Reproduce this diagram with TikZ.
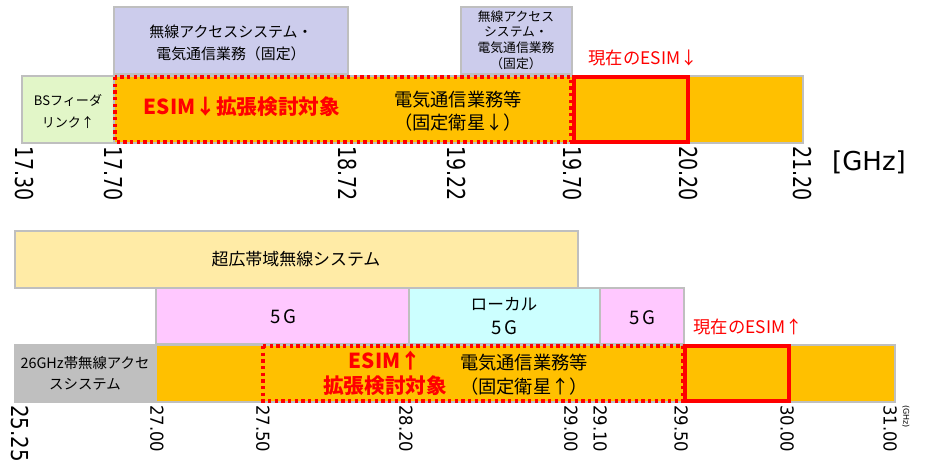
\documentclass[tikz,border=0pt]{standalone}
\usepackage{fontspec}
\setmainfont{Noto Sans CJK JP}
\newfontfamily\numfont{DejaVu Sans}
\definecolor{bord}{HTML}{BFBFBF}
\definecolor{lav}{HTML}{CCCCEC}
\definecolor{lgreen}{HTML}{E2F6C8}
\definecolor{orng}{HTML}{FFC000}
\definecolor{lyel}{HTML}{FFEBA6}
\definecolor{lpink}{HTML}{FFC8FF}
\definecolor{lcyan}{HTML}{CCFFFF}
\definecolor{gry}{HTML}{BFBFBF}
\definecolor{red}{HTML}{FF0000}
\begin{document}
\begin{tikzpicture}[x=0.75pt,y=-0.75pt,
  band/.style={draw=bord,line width=1.1pt},
  esimdot/.style={draw=red,line width=2.6pt,dash pattern=on 2.6pt off 2.4pt},
  esimcur/.style={draw=red,line width=2.6pt},
  lbl/.style={inner sep=0pt,align=center,text=black},
  redlbl/.style={inner sep=0pt,align=center,text=red},
  tickbig/.style={inner sep=0pt,anchor=west,rotate=-90,font=\numfont\fontsize{18.5}{20}\selectfont},
  ticksmall/.style={inner sep=0pt,anchor=west,rotate=-90,font=\numfont\fontsize{13.4}{15}\selectfont}]
\useasboundingbox (0,0) rectangle (926,469);
% ---------- top (downlink) ----------
\draw[band,fill=lav] (114,7) rectangle (348,74);
\draw[band,fill=lav] (461,7) rectangle (572,74);
\draw[band,fill=lgreen] (22,76) rectangle (114,143);
\draw[band,fill=orng] (114,76) rectangle (803,143);
\draw[esimdot] (115,77) rectangle (571,142);
\draw[esimcur] (574,77) rectangle (688,142);
\node[lbl,font=\fontsize{11.2}{16.5}\selectfont] (fwa1) at (231,43) {無線アクセスシステム・\\電気通信業務（固定）};
\node[lbl,font=\fontsize{9.6}{11.7}\selectfont] (fwa2) at (516,40) {無線アクセス\\システム・\\電気通信業務\\（固定）};
\node[lbl,font=\fontsize{9.8}{16.5}\selectfont] (bs) at (68,111) {BSフィーダ\\リンク↑};
\node[redlbl,font=\bfseries\fontsize{15.5}{18}\selectfont] (exd) at (242,107) {ESIM↓拡張検討対象};
\node[lbl,font=\fontsize{13.7}{17}\selectfont] (fssd) at (458,111) {電気通信業務等\\（固定衛星↓）};
\node[redlbl,font=\fontsize{13}{15}\selectfont] (curd) at (643,58) {現在のESIM↓};
\node[tickbig] (t1) at (24,146) {\scalebox{0.77}[1]{17.30}};
\node[tickbig] (t2) at (113,146) {\scalebox{0.77}[1]{17.70}};
\node[tickbig] (t3) at (347,146) {\scalebox{0.77}[1]{18.72}};
\node[tickbig] (t4) at (456,146) {\scalebox{0.77}[1]{19.22}};
\node[tickbig] (t5) at (572,146) {\scalebox{0.77}[1]{19.70}};
\node[tickbig] (t6) at (688,146) {\scalebox{0.77}[1]{20.20}};
\node[tickbig] (t7) at (802,146) {\scalebox{0.77}[1]{21.20}};
\node[inner sep=0pt,font=\numfont\fontsize{19.5}{22}\selectfont] (ghz) at (869,162) {[GHz]};
% ---------- bottom (uplink) ----------
\draw[band,fill=lyel] (15,231) rectangle (578,288);
\draw[band,fill=lpink] (156,288) rectangle (409,344);
\draw[band,fill=lcyan] (409,288) rectangle (600,344);
\draw[band,fill=lpink] (600,288) rectangle (684,344);
\draw[band,fill=gry] (15,345) rectangle (156,402);
\draw[band,fill=orng] (156,345) rectangle (895,402);
\draw[esimdot] (263,346) rectangle (683,401);
\draw[esimcur] (685,346) rectangle (789,401);
\node[lbl,font=\fontsize{12.7}{15}\selectfont] (uwb) at (296,259) {超広帯域無線システム};
\node[lbl,font=\fontsize{14}{15}\selectfont] (g5a) at (283,317) {5\hspace{2pt}G};
\node[lbl,font=\fontsize{12.5}{17.5}\selectfont] (l5g) at (504,316) {ローカル\\{\fontsize{14}{15}\selectfont 5\hspace{2pt}G}};
\node[lbl,font=\fontsize{14}{15}\selectfont] (g5b) at (642,318) {5\hspace{2pt}G};
\node[lbl,font=\fontsize{10.8}{15.7}\selectfont] (fwa26) at (85,373) {26GHz帯無線アクセ\\スシステム};
\node[redlbl,font=\bfseries\fontsize{15.5}{18.7}\selectfont] (exu) at (385,373) {ESIM↑\\拡張検討対象};
\node[lbl,font=\fontsize{13.7}{18}\selectfont] (fssu) at (524,375) {電気通信業務等\\（固定衛星↑）};
\node[redlbl,font=\fontsize{13}{15}\selectfont] (curu) at (748,327) {現在のESIM↑};
\node[inner sep=0pt,anchor=west,rotate=-90,font=\numfont\fontsize{17.5}{20}\selectfont] (u1) at (20,405) {\scalebox{0.85}[1]{25.25}};
\node[ticksmall] (u2) at (157,405) {\scalebox{0.92}[1]{27.00}};
\node[ticksmall] (u3) at (263,405) {\scalebox{0.92}[1]{27.50}};
\node[ticksmall] (u4) at (406,405) {\scalebox{0.92}[1]{28.20}};
\node[ticksmall] (u5) at (571,405) {\scalebox{0.92}[1]{29.00}};
\node[ticksmall] (u6) at (600,405) {\scalebox{0.92}[1]{29.10}};
\node[ticksmall] (u7) at (681,405) {\scalebox{0.92}[1]{29.50}};
\node[ticksmall] (u8) at (787,405) {\scalebox{0.92}[1]{30.00}};
\node[ticksmall] (u9) at (890,405) {\scalebox{0.92}[1]{31.00}};
\node[inner sep=0pt,anchor=west,rotate=-90,font=\numfont\fontsize{6}{7}\selectfont] (ghz2) at (906,405) {(GHz)};
\end{tikzpicture}
\end{document}
